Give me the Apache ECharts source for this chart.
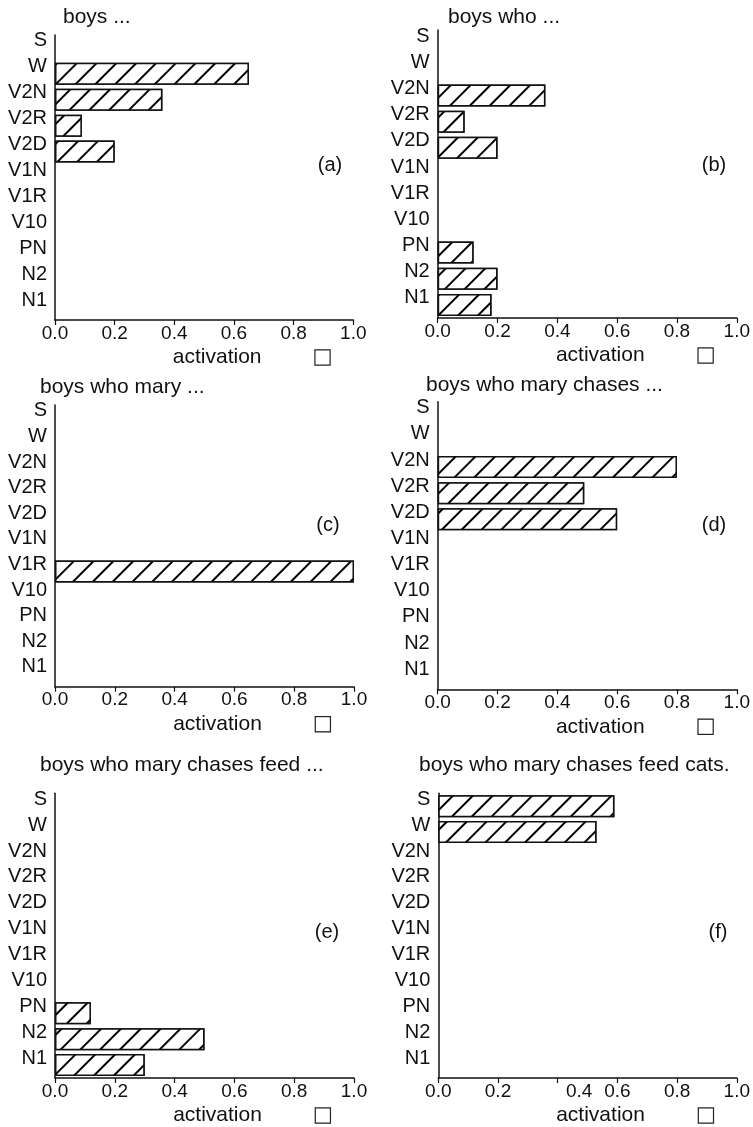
<!DOCTYPE html>
<html>
<head>
<meta charset="utf-8">
<script src="https://cdn.jsdelivr.net/npm/echarts@6/dist/echarts.min.js"></script>
<style>
html,body{margin:0;padding:0;background:#fff;}
#c{width:753px;height:1127px;}
</style>
</head>
<body>
<div id="c"></div>
<script>
// ---- data ----
const categories = ['S','W','V2N','V2R','V2D','V1N','V1R','V10','PN','N2','N1'];
const xTickLabels = ['0.0','0.2','0.4','0.6','0.8','1.0'];
const titles = ['boys ...','boys who ...','boys who mary ...','boys who mary chases ...','boys who mary chases feed ...','boys who mary chases feed cats.'];
const panelLabels = ['(a)','(b)','(c)','(d)','(e)','(f)'];
const axisName = 'activation';
//                S     W     V2N   V2R   V2D   V1N  V1R  V10  PN    N2    N1
const valsA = [0,    0.65, 0.36, 0.09, 0.20, 0,   0,   0,   0,    0,    0   ];
const valsB = [0,    0,    0.36, 0.09, 0.20, 0,   0,   0,   0.12, 0.20, 0.18];
const valsC = [0,    0,    0,    0,    0,    0,   1.0, 0,   0,    0,    0   ];
const valsD = [0,    0,    0.80, 0.49, 0.60, 0,   0,   0,   0,    0,    0   ];
const valsE = [0,    0,    0,    0,    0,    0,   0,   0,   0.12, 0.50, 0.30];
const valsF = [0.59, 0.53, 0,    0,    0,    0,   0,   0,   0,    0,    0   ];
const allVals = [valsA, valsB, valsC, valsD, valsE, valsF];

// ---- layout ----
const grids = [
  {left:55,    top:35,    width:298.3, height:285},
  {left:437.7, top:30,    width:299.3, height:288},
  {left:55,    top:405,   width:299,   height:281.7},
  {left:437.7, top:401.7, width:299.3, height:287.6},
  {left:55,    top:793.3, width:299,   height:286.7},
  {left:438.3, top:793.3, width:298.7, height:286.7}
];
const titlePos = [[63,7],[448,7],[40,377],[426,375],[40,755],[419,755]];
const labelPos = [[330,165],[714,165],[328,525],[714,525],[327,932],[718,932]];

const FONT = '"Liberation Sans", Arial, Helvetica, sans-serif';
const chart = echarts.init(document.getElementById('c'), null, {renderer:'canvas'});

const hatch = {
  symbol: 'rect', symbolSize: 1,
  dashArrayX: [1, 0], dashArrayY: [2, 12],
  rotation: -Math.PI / 4,
  color: '#000', backgroundColor: '#fff'
};

const option = {
  backgroundColor: '#fff',
  animation: false,
  title: titles.map((t, i) => ({
    text: t, left: titlePos[i][0], top: titlePos[i][1], padding: 0,
    textStyle: {fontFamily: FONT, fontSize: 21, fontWeight: 'normal', color: '#111'}
  })),
  grid: grids.map(g => Object.assign({containLabel: false}, g)),
  xAxis: grids.map((g, i) => ({
    type: 'value', gridIndex: i, min: 0, max: 1, interval: 0.2,
    name: '{t|' + axisName + '}{b| }',
    nameLocation: 'middle', nameGap: 27,
    nameTextStyle: {
      rich: {
        t: {fontFamily: FONT, fontSize: 21, color: '#111', padding: [0, 54, 0, 94]},
        b: {width: 14, height: 14, borderColor: '#222', borderWidth: 1.2, backgroundColor: '#fff'}
      }
    },
    axisLine: {show: true, lineStyle: {color: '#111', width: 1.5}},
    axisTick: {show: true, length: 5, lineStyle: {color: '#111', width: 1.2}},
    splitLine: {show: false},
    axisLabel: {
      margin: 4, fontFamily: FONT, fontSize: 19, color: '#111',
      formatter: (v) => {
        const idx = Math.round(v / 0.2);
        const s = xTickLabels[idx];
        if (i === 5 && idx === 2) return '{s|' + s + '}';
        return s;
      },
      rich: {s: {fontFamily: FONT, fontSize: 19, color: '#111', padding: [0, 0, 0, 43]}}
    }
  })),
  yAxis: grids.map((g, i) => ({
    type: 'category', gridIndex: i, data: categories, inverse: true,
    axisLine: {show: true, onZero: false, lineStyle: {color: '#111', width: 1.5}},
    axisTick: {show: false},
    splitLine: {show: false},
    axisLabel: {interval: 0, hideOverlap: false, margin: 8, fontFamily: FONT, fontSize: 20, color: '#111',
                verticalAlign: 'bottom', lineHeight: 14}
  })),
  series: allVals.map((vals, i) => ({
    type: 'bar', xAxisIndex: i, yAxisIndex: i,
    data: vals.map(v => v === 0 ? null : v),
    barWidth: 22,
    itemStyle: {color: '#fff', borderColor: '#111', borderWidth: 1.5, decal: hatch}
  })),
  graphic: panelLabels.map((t, i) => ({
    type: 'text', x: labelPos[i][0], y: labelPos[i][1],
    style: {text: t, fontFamily: FONT, fontSize: 20, fill: '#111', align: 'center', verticalAlign: 'middle'}
  }))
};
chart.setOption(option);
</script>
</body>
</html>
